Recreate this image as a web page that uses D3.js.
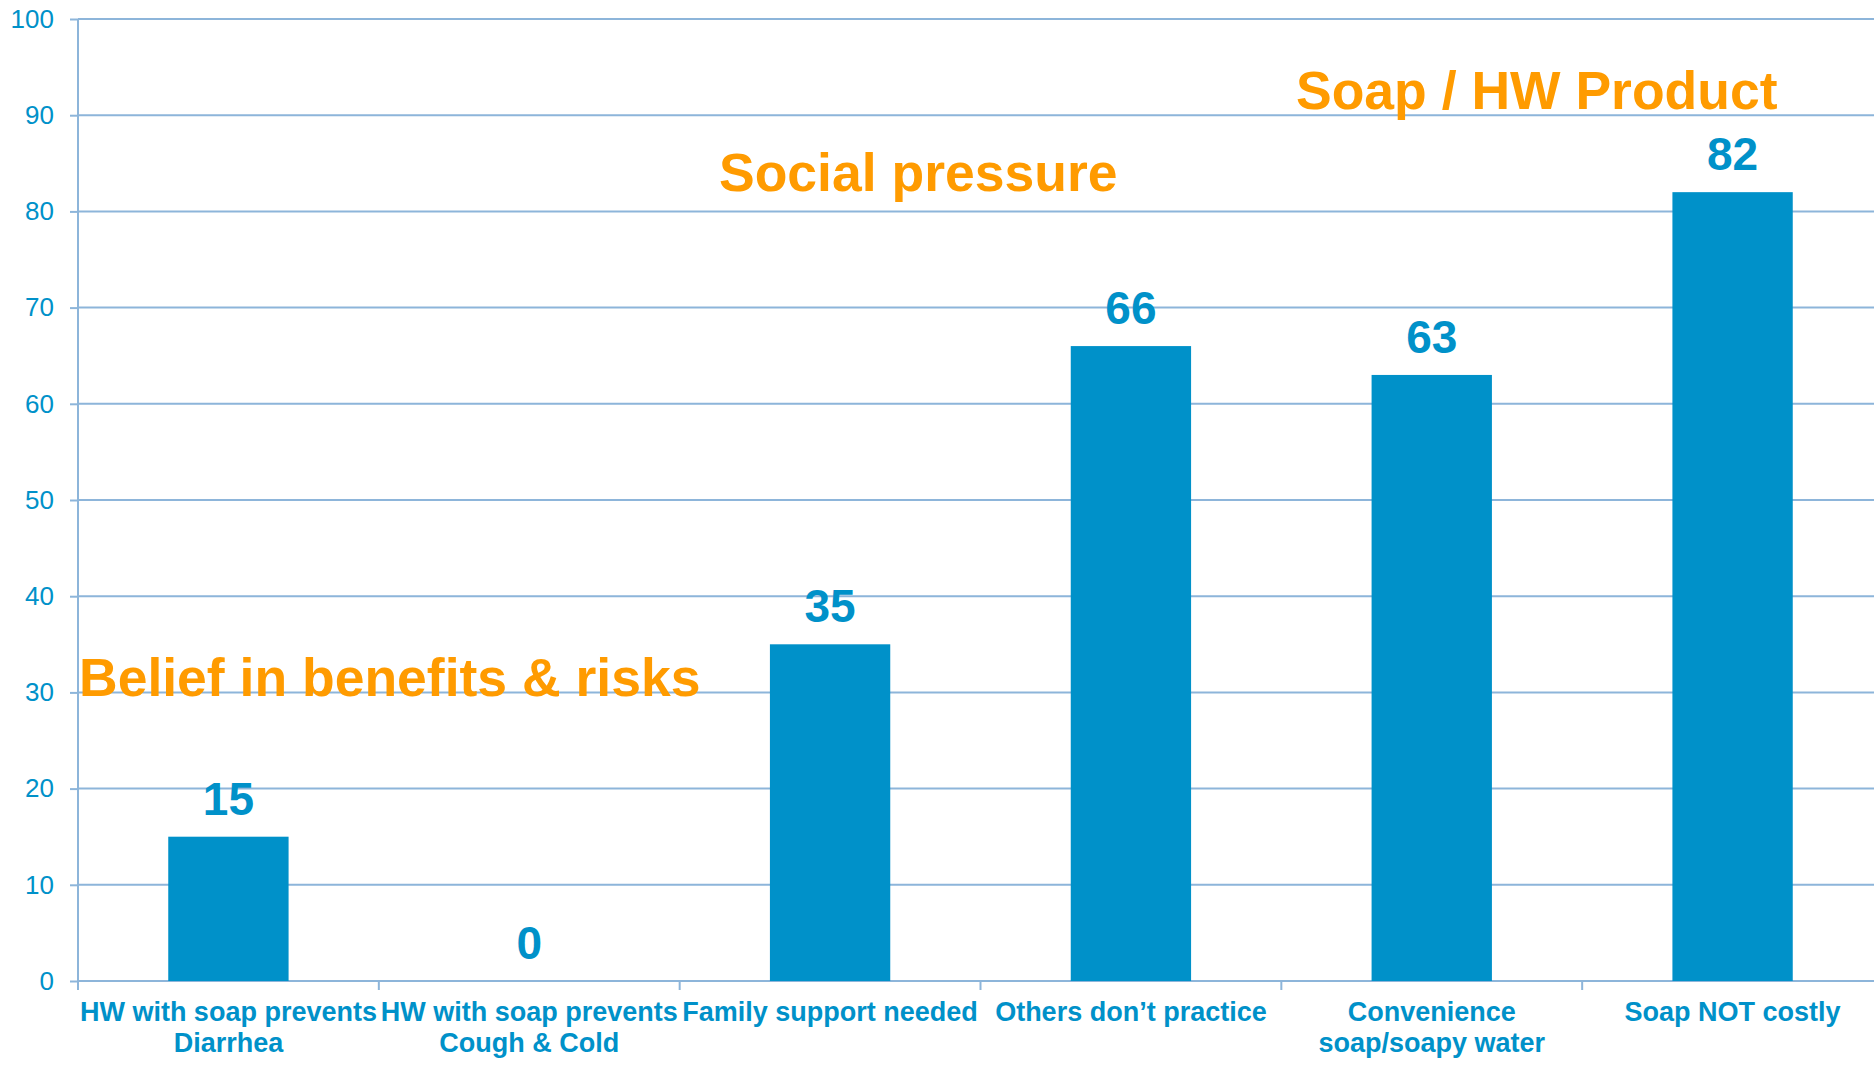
<!DOCTYPE html>
<html>
<head>
<meta charset="utf-8">
<script src="https://cdn.jsdelivr.net/npm/d3@7"></script>
<style>
  html, body { margin: 0; padding: 0; background: #ffffff; }
  svg { display: block; }
  text { font-family: "Liberation Sans", Arial, sans-serif; }
</style>
</head>
<body>
<svg id="chart" width="1874" height="1066"></svg>
<script>
// ---- data ----
const categories = [
  ["HW with soap prevents", "Diarrhea"],
  ["HW with soap prevents", "Cough & Cold"],
  ["Family support needed"],
  ["Others don\u2019t practice"],
  ["Convenience", "soap/soapy water"],
  ["Soap NOT costly"]
];
const values = [15, 0, 35, 66, 63, 82];
const yTicks = [0, 10, 20, 30, 40, 50, 60, 70, 80, 90, 100];
const annotations = ["Belief in benefits & risks", "Social pressure", "Soap / HW Product"];

(function () {
  // ---- layout ----
  const svg = d3.select("#chart");
  const mLeft = 78, mRight = 1883, mTop = 19, mBottom = 981;
  const blue = "#0091c9", grid = "#8db5da", orange = "#ff9b00";

  const x = d3.scaleBand().domain(d3.range(categories.length)).range([mLeft, mRight]).padding(0);
  const y = d3.scaleLinear().domain([0, 100]).range([mBottom, mTop]);

  // y ticks
  const yAxis = d3.axisLeft(y).tickValues(yTicks).tickSize(8).tickPadding(16).tickFormat(d3.format("d"));
  const gy = svg.append("g").attr("transform", `translate(${mLeft},0)`).call(yAxis);
  gy.select(".domain").remove();
  gy.selectAll(".tick line").attr("stroke", grid).attr("stroke-width", 2);
  gy.selectAll(".tick text").attr("fill", blue).attr("font-size", 26)
    .style("font-family", '"Liberation Sans", Arial, sans-serif');

  // gridlines
  svg.append("g").selectAll("line").data(yTicks).join("line")
    .attr("x1", mLeft).attr("x2", mRight)
    .attr("y1", d => y(d)).attr("y2", d => y(d))
    .attr("stroke", grid).attr("stroke-width", 2);

  // y axis vertical line
  svg.append("line").attr("x1", mLeft).attr("x2", mLeft).attr("y1", y(100)).attr("y2", mBottom + 9)
    .attr("stroke", grid).attr("stroke-width", 2);

  // category tick marks
  const boundaries = d3.range(categories.length + 1).map(i => mLeft + i * x.step());
  svg.append("g").selectAll("line").data(boundaries).join("line")
    .attr("x1", d => d).attr("x2", d => d).attr("y1", mBottom).attr("y2", mBottom + 9)
    .attr("stroke", grid).attr("stroke-width", 2);

  // bars
  const barW = x.bandwidth() * 0.4;
  svg.append("g").selectAll("rect").data(values).join("rect")
    .attr("x", (d, i) => x(i) + (x.bandwidth() - barW) / 2)
    .attr("width", barW)
    .attr("y", d => y(d))
    .attr("height", d => mBottom - y(d))
    .attr("fill", blue);

  // value labels
  svg.append("g").selectAll("text").data(values).join("text")
    .attr("x", (d, i) => x(i) + x.bandwidth() / 2)
    .attr("y", d => y(d) - 22)
    .attr("text-anchor", "middle")
    .attr("font-size", 46).attr("font-weight", "bold").attr("fill", blue)
    .text(d => d);

  // category labels
  const cat = svg.append("g").selectAll("text").data(categories).join("text")
    .attr("text-anchor", "middle")
    .attr("font-size", 27).attr("font-weight", "bold").attr("fill", blue)
    .attr("transform", (d, i) => `translate(${x(i) + x.bandwidth() / 2},1021)`);
  cat.selectAll("tspan").data(d => d).join("tspan")
    .attr("x", 0).attr("y", (d, i) => i * 31).text(d => d);

  // annotations
  const annPos = [
    { x: 79, y: 696 },
    { x: 719, y: 191 },
    { x: 1296, y: 109 }
  ];
  svg.append("g").selectAll("text").data(annotations).join("text")
    .attr("x", (d, i) => annPos[i].x)
    .attr("y", (d, i) => annPos[i].y)
    .attr("font-size", 53.5).attr("font-weight", "bold").attr("fill", orange)
    .text(d => d);
})();
</script>
</body>
</html>
